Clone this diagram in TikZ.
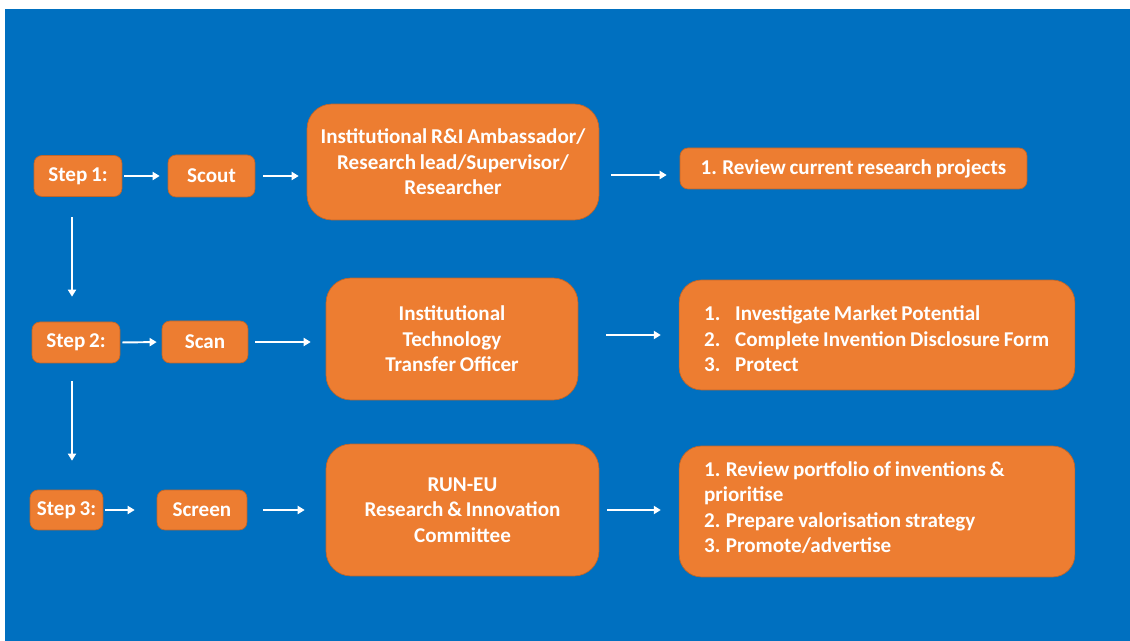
\documentclass[tikz,border=0pt]{standalone}
\usepackage{fontspec}
\setmainfont{Carlito}[WordSpace=0.8]
\usetikzlibrary{arrows.meta}

\definecolor{runblue}{HTML}{0070C0}
\definecolor{runorange}{HTML}{ED7D31}
\definecolor{runedge}{HTML}{C0662A}

% number in front of a list line
\newcommand{\listnum}[1]{\makebox[0.62cm][l]{#1}}

\begin{document}
\begin{tikzpicture}[x=0.02cm, y=-0.02cm,
    box/.style={draw=runedge, fill=runorange, text=white, inner sep=0pt,
        font=\bfseries\fontsize{12}{14.5}\selectfont, align=center},
    smallbox/.style={box, rounded corners=0.16cm},
    bigbox/.style={box, rounded corners=0.5cm},
    listbox/.style={box, rounded corners=0.45cm, inner xsep=0.22cm, minimum width=7.88cm},
    flow/.style={draw=white, line width=1.1pt, -{Triangle[length=4pt,width=4.6pt]}}]

    \useasboundingbox (0,0) rectangle (1130,641);
    \fill[runblue] (5,9) rectangle (1130,641);

    % step 1
    \node[smallbox, minimum width=1.76cm, minimum height=0.82cm] (s1) at (78,176) {Step 1:};
    \node[smallbox, minimum width=1.74cm, minimum height=0.84cm] (scout) at (211.5,176) {Scout};
    \node[bigbox, minimum width=5.84cm, minimum height=2.32cm] (who1) at (453,162)
        {Institutional R\&I Ambassador/\\Research lead/Supervisor/\\Researcher};
    \node[smallbox, minimum width=6.94cm, minimum height=0.82cm] (do1) at (853.5,168.5)
        {1. Review current research projects};

    % step 2
    \node[smallbox, minimum width=1.76cm, minimum height=0.82cm] (s2) at (76,342.5) {Step 2:};
    \node[smallbox, minimum width=1.72cm, minimum height=0.84cm] (scan) at (205,342) {Scan};
    \node[bigbox, minimum width=5.04cm, minimum height=2.44cm] (who2) at (452,339)
        {Institutional\\Technology\\Transfer Officer};
    \node[listbox, minimum height=2.2cm] (do2) at (877,335) {%
        \begin{minipage}{7.4cm}
            \vspace{0.16cm}
            \raggedright\leftskip=0.28cm
            \listnum{1.}Investigate Market Potential\\
            \listnum{2.}Complete Invention Disclosure Form\\
            \listnum{3.}Protect
        \end{minipage}
    };

    % step 3
    \node[smallbox, minimum width=1.46cm, minimum height=0.8cm] (s3) at (66.5,510) {Step 3:};
    \node[smallbox, minimum width=1.8cm, minimum height=0.8cm] (screen) at (202,510) {Screen};
    \node[bigbox, minimum width=5.46cm, minimum height=2.64cm] (who3) at (462.5,510)
        {RUN-EU\\Research \& Innovation\\Committee};
    \node[listbox, minimum height=2.62cm] (do3) at (877,511.5) {%
        \begin{minipage}{7.4cm}
            \raggedright\leftskip=0.28cm
            1. Review portfolio of inventions \&\\
            prioritise\\
            2. Prepare valorisation strategy\\
            3. Promote/advertise\par
            \vspace{0.16cm}
        \end{minipage}
    };

    \draw[flow, shorten <=0.04cm, shorten >=0.16cm] (s1.east) -- (scout.west);
    \draw[flow, shorten <=0.16cm, shorten >=0.16cm] (scout.east) -- (scout.east -| who1.west);
    \draw[flow, shorten <=0.24cm, shorten >=0.26cm] ([yshift=-0.13cm]do1.west -| who1.east) -- ([yshift=-0.13cm]do1.west);

    \draw[flow, shorten <=0.04cm, shorten >=0.1cm] (s2.east) -- (scan.west);
    \draw[flow, shorten <=0.14cm, shorten >=0.3cm] (scan.east) -- (scan.east -| who2.west);
    \draw[flow, shorten <=0.56cm, shorten >=0.36cm] (do2.west -| who2.east) -- (do2.west);

    \draw[flow, shorten <=0.04cm, shorten >=0.44cm] (s3.east) -- (screen.west);
    \draw[flow, shorten <=0.32cm, shorten >=0.42cm] (screen.east) -- (screen.east -| who3.west);
    \draw[flow, shorten <=0.16cm, shorten >=0.36cm] (who3.east) -- (who3.east -| do3.west);

    \draw[flow, shorten <=0.41cm, shorten >=0.5cm] ([xshift=-0.12cm]s1.south) -- ([xshift=-0.12cm]s1.south |- s2.north);
    \draw[flow, shorten <=0.36cm, shorten >=0.58cm] ([xshift=-0.08cm]s2.south) -- ([xshift=-0.08cm]s2.south |- s3.north);
\end{tikzpicture}
\end{document}
